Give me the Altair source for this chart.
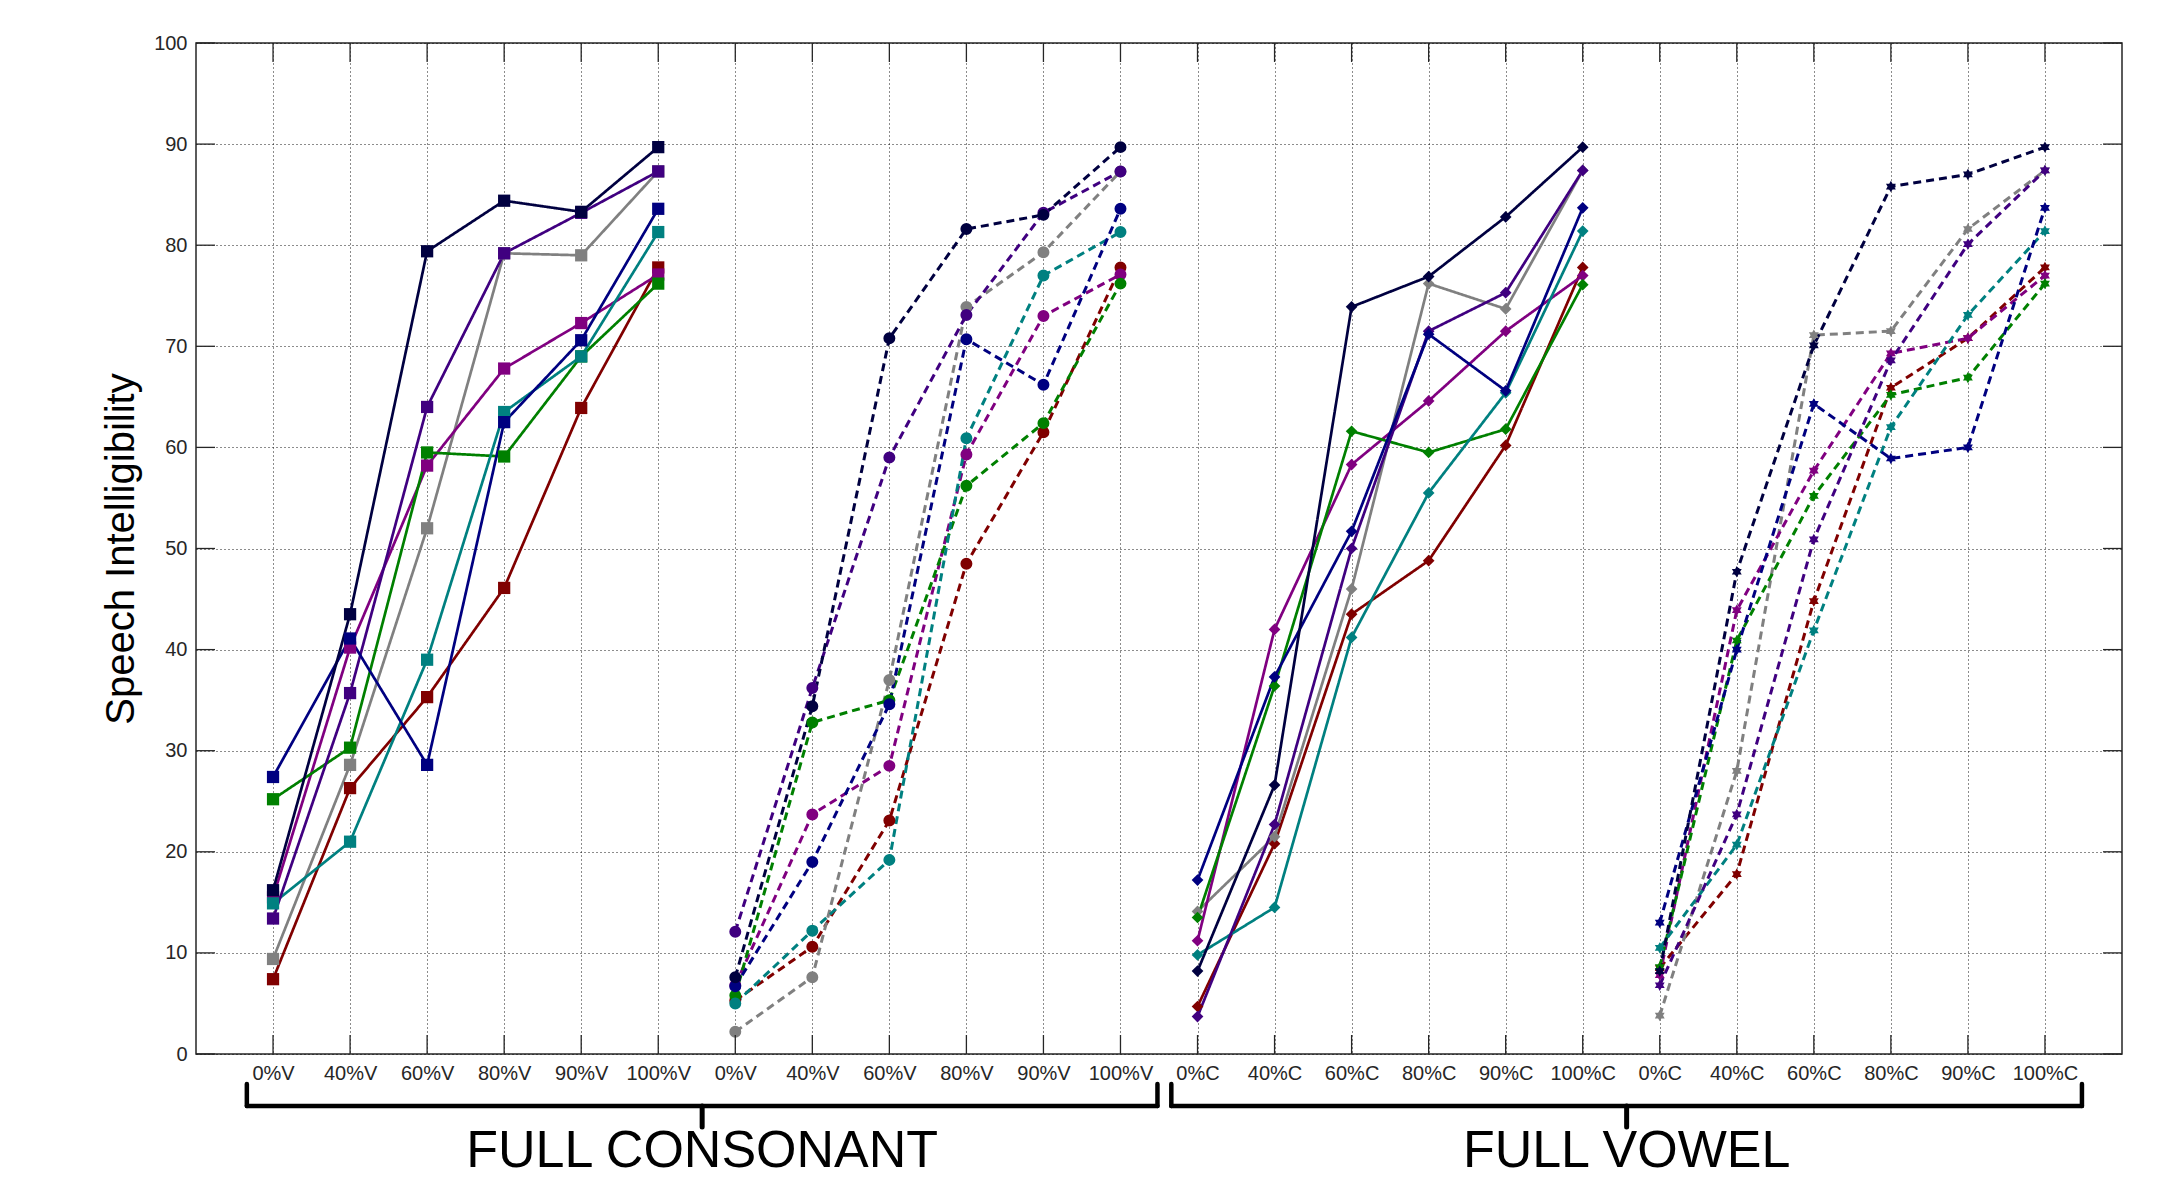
import json
import altair as alt
import pandas as pd

# ---------------- data ----------------
tick_labels = (["0%V", "40%V", "60%V", "80%V", "90%V", "100%V"] * 2
               + ["0%C", "40%C", "60%C", "80%C", "90%C", "100%C"] * 2)

# drawing order (first = bottom)
series = ["red", "gray", "magenta", "green", "teal", "indigo", "blue", "dark"]
colors = ["#800000", "#808080", "#800080", "#008000", "#008080", "#400080", "#000080", "#000040"]

groups = ["cons_v", "cons_c", "vow_v", "vow_c"]
group_style = ["solid", "dashed", "solid", "dashed"]
group_marker = ["square", "circle", "diamond", "hexagram"]

# Full consonant, vowel-level conditions (solid, squares)
g1 = {
    "dark":    [16.2, 43.5, 79.4, 84.4, 83.3, 89.7],
    "blue":    [27.4, 41.1, 28.6, 62.5, 70.6, 83.6],
    "indigo":  [13.4, 35.7, 64.0, 79.2, 83.2, 87.3],
    "magenta": [15.5, 40.2, 58.2, 67.8, 72.3, 77.1],
    "gray":    [9.4, 28.6, 52.0, 79.2, 79.0, 87.3],
    "green":   [25.2, 30.3, 59.5, 59.1, 69.0, 76.2],
    "teal":    [14.9, 21.0, 39.0, 63.5, 69.0, 81.3],
    "red":     [7.4, 26.3, 35.3, 46.1, 63.9, 77.8],
}
# Full consonant, second set (dashed, circles)
g2 = {
    "dark":    [7.6, 34.4, 70.8, 81.6, 83.0, 89.7],
    "blue":    [6.7, 19.0, 34.6, 70.7, 66.2, 83.6],
    "indigo":  [12.1, 36.2, 59.0, 73.1, 83.2, 87.3],
    "magenta": [6.8, 23.7, 28.5, 59.3, 73.0, 77.1],
    "gray":    [2.2, 7.6, 37.0, 73.9, 79.3, 87.3],
    "green":   [5.8, 32.8, 35.0, 56.2, 62.4, 76.2],
    "teal":    [5.0, 12.2, 19.2, 60.9, 77.0, 81.3],
    "red":     [5.3, 10.6, 23.1, 48.5, 61.5, 77.8],
}
# Full vowel, first set (solid, diamonds)
g3 = {
    "dark":    [8.2, 26.6, 73.9, 76.9, 82.8, 89.7],
    "blue":    [17.2, 37.3, 51.7, 71.2, 65.6, 83.7],
    "indigo":  [3.7, 22.7, 50.0, 71.5, 75.3, 87.4],
    "magenta": [11.2, 42.0, 58.3, 64.6, 71.5, 77.0],
    "gray":    [14.1, 21.5, 46.0, 76.2, 73.7, 87.4],
    "green":   [13.5, 36.4, 61.6, 59.5, 61.8, 76.1],
    "teal":    [9.8, 14.5, 41.2, 55.5, 65.4, 81.4],
    "red":     [4.7, 20.8, 43.5, 48.8, 60.2, 77.8],
}
# Full vowel, second set (dashed, hexagrams)
g4 = {
    "dark":    [8.2, 47.7, 70.1, 85.8, 87.0, 89.7],
    "blue":    [13.0, 40.0, 64.3, 58.9, 60.0, 83.7],
    "indigo":  [6.8, 23.7, 50.9, 68.6, 80.1, 87.4],
    "magenta": [7.8, 43.9, 57.7, 69.3, 70.8, 77.0],
    "gray":    [3.8, 28.0, 71.1, 71.5, 81.6, 87.4],
    "green":   [8.6, 40.9, 55.2, 65.2, 66.9, 76.2],
    "teal":    [10.5, 20.7, 41.9, 62.0, 73.1, 81.4],
    "red":     [8.5, 17.8, 44.8, 65.9, 70.8, 77.8],
}
group_values = [g1, g2, g3, g4]

y_ticks = list(range(0, 101, 10))
x_ticks = list(range(1, 25))

brace_start = [1, 13]
brace_end = [12, 24]
brace_text = ["FULL CONSONANT", "FULL VOWEL"]

# ---------------- build tables ----------------
rows = []
for s in series:
    for gi, g in enumerate(groups):
        for i, v in enumerate(group_values[gi][s]):
            rows.append({"series": s, "group": g, "x": gi * 6 + i + 1, "y": v,
                         "style": group_style[gi], "marker": group_marker[gi]})
df = pd.DataFrame(rows)

brace = pd.DataFrame({"left": [a - 0.34 for a in brace_start],
                      "right": [b + 0.48 for b in brace_end],
                      "text": brace_text})
brace["center"] = (brace["left"] + brace["right"]) / 2

W, H = 1926, 1011
AX = "#262626"
FONT = "Liberation Sans"
HEX = ("M0,-1L-0.289,-0.5L-0.866,-0.5L-0.577,0L-0.866,0.5L-0.289,0.5L0,1"
       "L0.289,0.5L0.866,0.5L0.577,0L0.866,-0.5L0.289,-0.5Z")

xscale = alt.Scale(domain=[0, 25], nice=False, zero=False)
yscale = alt.Scale(domain=[0, 100], nice=False, zero=False)

xaxis = alt.Axis(values=x_ticks, labelExpr=f"{json.dumps(tick_labels)}[datum.value - 1]",
                 title=None, grid=True, gridDash=[1, 3], gridColor="#000", gridOpacity=0.9,
                 gridWidth=1, ticks=False, domain=False, labelFont=FONT, labelFontSize=20,
                 labelColor=AX, labelPadding=9, labelAngle=0, labelOverlap=False,
                 labelFlush=False)
yaxis = alt.Axis(values=y_ticks, title="Speech Intelligibility", grid=True, gridDash=[1, 3],
                 gridColor="#000", gridOpacity=0.9, gridWidth=1, ticks=False, domain=False,
                 labelFont=FONT, labelFontSize=20, labelColor=AX, labelPadding=9,
                 titleFont=FONT, titleFontSize=40, titleFontWeight="normal", titleColor="#000",
                 titleX=-75, titleY=H / 2, titleAngle=270, titleAlign="center",
                 titleBaseline="middle")

color = alt.Color("series:N", scale=alt.Scale(domain=series, range=colors), legend=None)

lines = alt.Chart(df).mark_line().encode(
    x=alt.X("x:Q", scale=xscale, axis=xaxis),
    y=alt.Y("y:Q", scale=yscale, axis=yaxis),
    color=color,
    detail="group:N",
    strokeDash=alt.StrokeDash("style:N", scale=alt.Scale(domain=["solid", "dashed"],
                                                          range=[[1, 0], [8, 5]]), legend=None),
    strokeWidth=alt.StrokeWidth("style:N", scale=alt.Scale(domain=["solid", "dashed"],
                                                            range=[2.7, 3.0]), legend=None),
    order="x:Q",
)

points = alt.Chart(df).mark_point(filled=True, opacity=1).encode(
    x=alt.X("x:Q", scale=xscale),
    y=alt.Y("y:Q", scale=yscale),
    color=color,
    shape=alt.Shape("marker:N", scale=alt.Scale(domain=group_marker,
                                                range=["square", "circle", "diamond", HEX]),
                    legend=None),
    size=alt.Size("marker:N", scale=alt.Scale(domain=group_marker,
                                              range=[150, 130, 210, 280]), legend=None),
)

ytk = pd.DataFrame({"v": y_ticks})
xtk = pd.DataFrame({"v": x_ticks})
TL = 19
tick_left = alt.Chart(ytk).mark_rule(color=AX, strokeWidth=1.3).encode(
    y=alt.Y("v:Q", scale=yscale), x=alt.value(0), x2=alt.value(TL))
tick_right = alt.Chart(ytk).mark_rule(color=AX, strokeWidth=1.3).encode(
    y=alt.Y("v:Q", scale=yscale), x=alt.value(W - TL), x2=alt.value(W))
tick_bottom = alt.Chart(xtk).mark_rule(color=AX, strokeWidth=1.3).encode(
    x=alt.X("v:Q", scale=xscale), y=alt.value(H - TL), y2=alt.value(H))
tick_top = alt.Chart(xtk).mark_rule(color=AX, strokeWidth=1.3).encode(
    x=alt.X("v:Q", scale=xscale), y=alt.value(0), y2=alt.value(TL))

BY = 1063
bstyle = dict(color="#000", strokeWidth=4.5, strokeCap="round")
b_h = alt.Chart(brace).mark_rule(**bstyle).encode(
    x=alt.X("left:Q", scale=xscale), x2="right:Q", y=alt.value(BY))
b_l = alt.Chart(brace).mark_rule(**bstyle).encode(
    x=alt.X("left:Q", scale=xscale), y=alt.value(BY - 22), y2=alt.value(BY))
b_r = alt.Chart(brace).mark_rule(**bstyle).encode(
    x=alt.X("right:Q", scale=xscale), y=alt.value(BY - 22), y2=alt.value(BY))
b_c = alt.Chart(brace).mark_rule(color="#000", strokeWidth=5, strokeCap="round").encode(
    x=alt.X("center:Q", scale=xscale), y=alt.value(BY), y2=alt.value(BY + 21))
b_t = alt.Chart(brace).mark_text(font=FONT, fontSize=52, color="#000", align="center",
                                 baseline="alphabetic").encode(
    x=alt.X("center:Q", scale=xscale), y=alt.value(1124), text="text:N")

chart = alt.layer(
    lines, points, tick_left, tick_right, tick_bottom, tick_top,
    b_h, b_l, b_r, b_c, b_t,
).properties(
    width=W, height=H,
    padding={"left": 188, "top": 35, "right": 40, "bottom": 126},
    autosize=alt.AutoSizeParams(type="none"),
    background="white",
).configure_view(stroke=AX, strokeWidth=1.5)

chart.save("out.html", embed_options={"renderer": "svg", "actions": False})
